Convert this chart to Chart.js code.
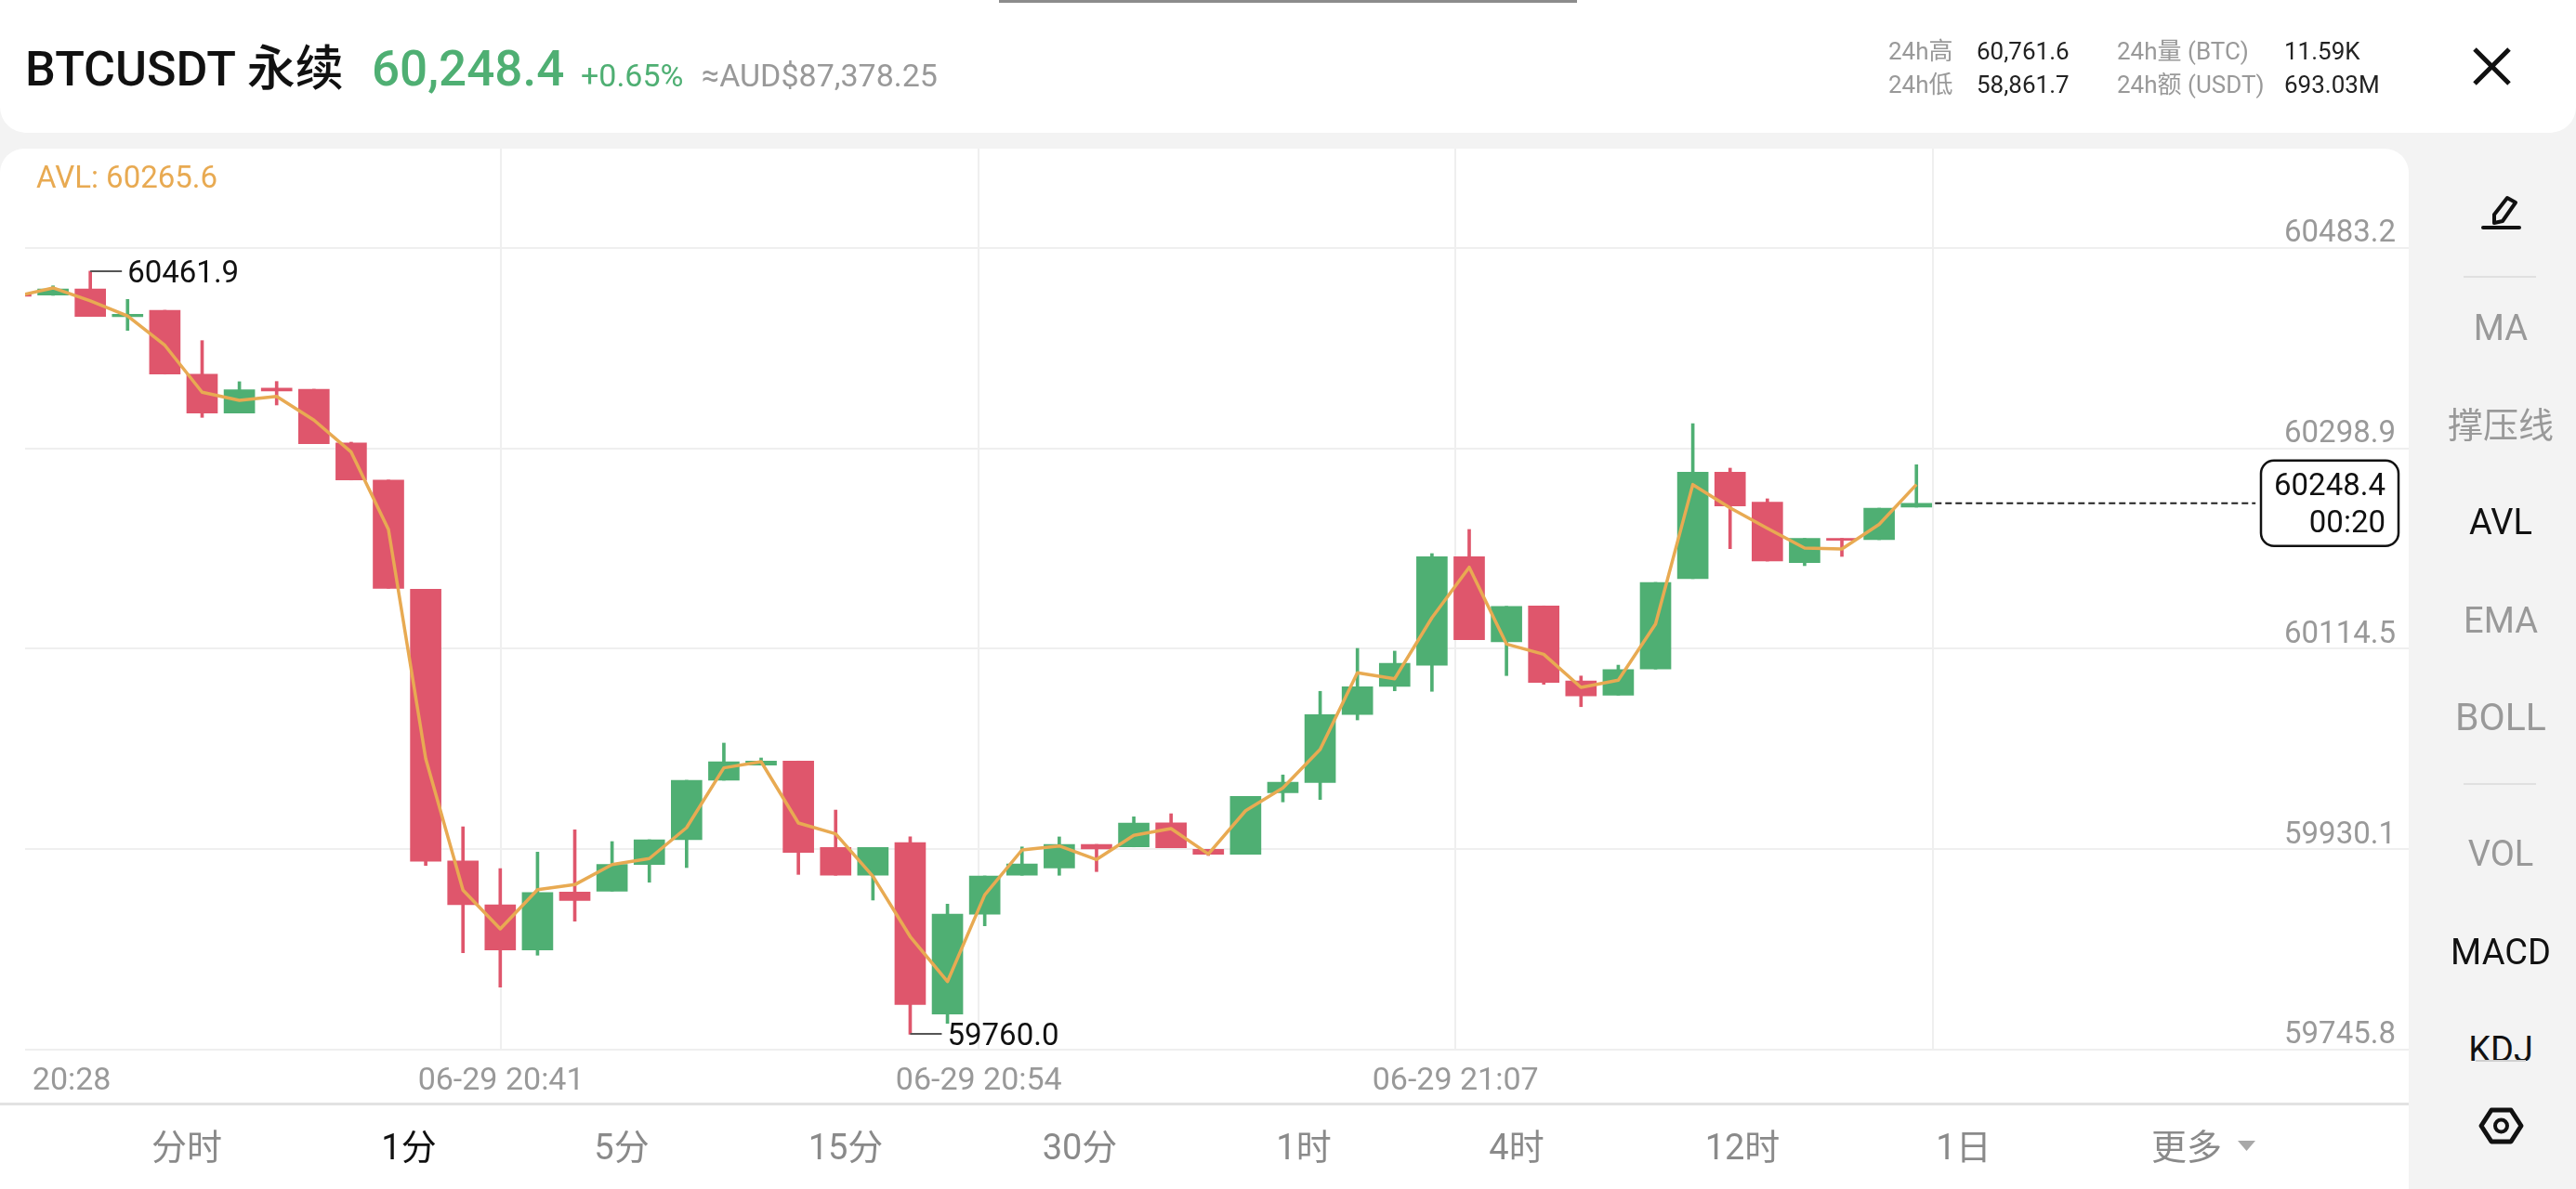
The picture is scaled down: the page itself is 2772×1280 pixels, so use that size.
<!DOCTYPE html>
<html lang="zh-CN">
<head>
<meta charset="utf-8">
<title>BTCUSDT 永续</title>
<script src="https://cdn.jsdelivr.net/npm/chart.js@4/dist/chart.umd.js"></script>
<style>
    html, body { margin: 0; padding: 0; background: #f3f3f3; overflow: hidden; }
    body { width: 2772px; height: 1280px; position: relative; font-family: Roboto, "Noto Sans CJK SC", sans-serif; }
    #header { position: absolute; left: 0; top: 0; width: 2772px; height: 143px; background: #fff; border-radius: 0 0 28px 28px; }
    #handle { position: absolute; left: 1075px; top: 0; width: 622px; height: 3px; background: #8c8c8c; }
    #card { position: absolute; left: 0; top: 160px; width: 2592px; height: 1120px; background: #fff; border-radius: 26px 26px 0 0; }
    #chart { position: absolute; left: 0; top: 0; }
    #divider { position: absolute; left: 0; top: 1187px; width: 2592px; height: 3px; background: #e2e2e2; }
    #kdjClip { position: absolute; left: 2592px; top: 1000px; width: 180px; height: 142px; overflow: hidden; }
    #kdjRule { position: absolute; left: 2664px; top: 1141px; width: 54px; height: 2px; background: #cfcfcf; }
    .rule { position: absolute; left: 2651px; width: 78px; height: 2px; background: #e0e0e0; }
    .txt { position: absolute; line-height: 1; white-space: nowrap; }
    svg { position: absolute; left: 0; top: 0; pointer-events: none; }
</style>
</head>
<body>
<div id="header"></div>
<div id="handle"></div>
<div id="card"></div>
<canvas id="chart" width="2592" height="1028" style="left:0;top:160px"></canvas>
<div id="divider"></div>
<div class="rule" style="top:297px"></div>
<div class="rule" style="top:843px"></div>
<div id="kdjClip"></div>
<div id="kdjRule"></div>
<svg width="2772" height="1280" fill="none" stroke="#111">
    <!-- close -->
    <path d="M2663 53 L2700 90 M2700 53 L2663 90" stroke-width="5"/>
    <!-- drawing tool -->
    <path d="M2698 213 L2707 218 L2693 238 L2684 240 L2684 231 Z" stroke-width="4" stroke-linejoin="round"/>
    <path d="M2672 245 H2711" stroke-width="4" stroke-linecap="round"/>
    <!-- settings -->
    <path d="M2681 1195 H2702 L2713 1212 L2702 1229 H2681 L2670 1212 Z" stroke-width="5" stroke-linejoin="round"/>
    <circle cx="2691.5" cy="1212" r="6.5" stroke-width="4"/>
    <!-- more -->
    <path d="M2408 1228 H2427 L2417.5 1239 Z" fill="#a8a8a8" stroke="none"/>
</svg>
<script>
// one minute candles, oldest first
const opens = [60441.3, 60439.9, 60445.6, 60420.0, 60425.9, 60367.2, 60331.4, 60354.2, 60353.3, 60303.8, 60269.8, 60169.4, 59919.5, 59879.1, 59837.5, 59890.8, 59891.6, 59916.1, 59938.9, 59993.6, 60007.5, 60011.3, 59931.8, 59906.2, 59936.3, 59778.5, 59870.5, 59906.2, 59913.0, 59934.6, 59932.3, 59954.5, 59930.1, 59925.5, 59982.2, 59991.6, 60054.0, 60079.9, 60099.3, 60199.3, 60120.9, 60154.0, 60085.0, 60071.9, 60095.9, 60179.0, 60277.0, 60249.5, 60193.8, 60216.1, 60214.9, 60244.8];
const highs = [60441.3, 60448.4, 60461.9, 60435.9, 60425.9, 60398.0, 60360.2, 60360.4, 60353.3, 60304.6, 60269.8, 60169.4, 59950.9, 59912.4, 59927.5, 59948.0, 59937.2, 59938.9, 59993.6, 60027.8, 60014.1, 60011.3, 59966.2, 59931.8, 59941.7, 59879.7, 59905.6, 59932.3, 59941.5, 59934.6, 59960.0, 59962.8, 59930.1, 59978.8, 59998.5, 60075.4, 60114.9, 60112.4, 60202.1, 60224.3, 60153.6, 60154.0, 60089.5, 60099.5, 60175.6, 60321.7, 60280.7, 60252.5, 60216.1, 60216.1, 60243.9, 60283.8];
const lows = [60438.8, 60439.6, 60420.2, 60407.4, 60367.2, 60327.4, 60331.4, 60338.8, 60303.2, 60269.8, 60170.2, 59915.2, 59834.9, 59803.3, 59832.7, 59864.0, 59891.6, 59899.8, 59913.3, 59993.6, 60007.5, 59907.0, 59906.2, 59883.4, 59760.0, 59770.0, 59859.7, 59906.2, 59906.2, 59909.6, 59932.3, 59931.5, 59924.4, 59925.5, 59973.7, 59975.9, 60049.1, 60075.9, 60075.4, 60122.9, 60089.9, 60081.9, 60061.3, 60071.9, 60095.9, 60179.0, 60206.6, 60195.2, 60191.0, 60199.5, 60214.9, 60244.8];
const closes = [60438.8, 60445.6, 60420.2, 60422.3, 60367.2, 60331.4, 60352.7, 60351.6, 60303.2, 60269.8, 60170.2, 59919.2, 59879.1, 59837.5, 59890.4, 59883.1, 59916.1, 59938.9, 59993.6, 60010.7, 60011.3, 59927.2, 59906.2, 59931.8, 59787.4, 59870.5, 59905.6, 59916.7, 59934.6, 59930.4, 59954.3, 59931.5, 59925.5, 59978.8, 59991.9, 60054.0, 60079.6, 60101.2, 60199.3, 60122.9, 60153.6, 60083.6, 60071.3, 60095.5, 60175.6, 60277.0, 60245.9, 60195.2, 60216.1, 60214.4, 60243.9, 60248.4];
const avl = [60438.8, 60446.5, 60434.5, 60420.8, 60393.7, 60350.5, 60343.1, 60346.7, 60324.9, 60295.5, 60224.3, 60013.5, 59892.5, 59856.9, 59893.0, 59897.6, 59916.1, 59921.6, 59950.0, 60005.0, 60010.7, 59954.3, 59944.3, 59905.3, 59849.8, 59808.4, 59888.2, 59929.5, 59933.2, 59920.7, 59942.9, 59949.2, 59925.8, 59965.6, 59986.5, 60022.0, 60092.4, 60087.0, 60143.1, 60189.5, 60118.9, 60109.5, 60079.0, 60085.6, 60137.4, 60265.6, 60244.2, 60225.4, 60207.2, 60206.4, 60229.0, 60265.6];

const priceTicks = [60483.2, 60298.9, 60114.5, 59930.1, 59745.8];
const timeTicks = [1.5, 13.02, 25.84, 38.63, 51.45];
const timeLabels = ['20:28', '06-29 20:41', '06-29 20:54', '06-29 21:07', ''];

const lastPrice = 60248.4;
const countdown = '00:20';
const highMark = { index: 2, price: 60461.9 };
const lowMark = { index: 24, price: 59760.0 };

const UP = '#4faf73';
const DOWN = '#df566c';
const GRID = '#efefef';
const AVL_COLOR = '#e8aa52';

const xs = opens.map((_, i) => i);
const candleColors = xs.map(i => closes[i] >= opens[i] ? UP : DOWN);

// marks that sit on the price scale but are not series: high/low callouts and the live price tag
const annotations = {
    id: 'annotations',
    afterDatasetsDraw(chart) {
        const ctx = chart.ctx;
        const x = chart.scales.x;
        const y = chart.scales.y;
        ctx.save();
        ctx.font = '33px Roboto';
        ctx.textBaseline = 'alphabetic';
        ctx.textAlign = 'left';
        [highMark, lowMark].forEach(m => {
            const px = x.getPixelForValue(m.index);
            const py = Math.round(y.getPixelForValue(m.price));
            ctx.strokeStyle = '#555';
            ctx.lineWidth = 2;
            ctx.beginPath();
            ctx.moveTo(px, py);
            ctx.lineTo(px + 34, py);
            ctx.stroke();
            ctx.fillStyle = '#111';
            ctx.fillText(m.price.toFixed(1), px + 40, py + 12);
        });
        const right = chart.chartArea.right - 11;
        const mid = y.getPixelForValue(lastPrice);
        ctx.fillStyle = '#fff';
        ctx.strokeStyle = '#111';
        ctx.lineWidth = 2.5;
        ctx.beginPath();
        ctx.roundRect(right - 148, mid - 46, 148, 92, 14);
        ctx.fill();
        ctx.stroke();
        ctx.fillStyle = '#111';
        ctx.textAlign = 'right';
        ctx.fillText(lastPrice.toFixed(1), right - 14, mid - 9);
        ctx.fillText(countdown, right - 14, mid + 31);
        ctx.restore();
    }
};

new Chart(document.getElementById('chart'), {
    data: {
        datasets: [{
            type: 'line',
            label: 'AVL',
            data: xs.map(i => ({ x: i, y: avl[i] })),
            borderColor: AVL_COLOR,
            borderWidth: 3.5,
            borderJoinStyle: 'round',
            pointRadius: 0,
            tension: 0,
            order: 1
        }, {
            type: 'line',
            label: 'last',
            data: [{ x: 51.5, y: lastPrice }, { x: 60.1, y: lastPrice }],
            borderColor: '#222',
            borderWidth: 2,
            borderDash: [7, 4],
            pointRadius: 0,
            order: 2
        }, {
            type: 'bar',
            label: 'body',
            data: xs.map(i => ({ x: i, y: [opens[i], closes[i]] })),
            backgroundColor: candleColors,
            barThickness: 33,
            grouped: false,
            order: 3
        }, {
            type: 'bar',
            label: 'wick',
            data: xs.map(i => ({ x: i, y: [lows[i], highs[i]] })),
            backgroundColor: candleColors,
            barThickness: 3,
            grouped: false,
            order: 4
        }]
    },
    options: {
        responsive: false,
        animation: false,
        devicePixelRatio: 1,
        layout: { padding: { left: 27, right: 0, top: 0, bottom: 0 } },
        plugins: { legend: { display: false }, tooltip: { enabled: false } },
        scales: {
            x: {
                type: 'linear',
                offset: false,
                min: 0.25,
                max: 64.21,
                afterBuildTicks: scale => { scale.ticks = timeTicks.map(v => ({ value: v })); },
                afterFit: scale => { scale.height = 58; scale.paddingLeft = 0; scale.paddingRight = 0; },
                border: { display: false },
                // the first time label has no grid line of its own
                grid: { offset: false, drawTicks: false, lineWidth: 2, color: ctx => ctx.index === 0 ? 'transparent' : GRID },
                ticks: {
                    autoSkip: false,
                    maxRotation: 0,
                    padding: 14,
                    color: '#999',
                    font: { family: 'Roboto', size: 34 },
                    callback: (v, i) => timeLabels[i]
                }
            },
            y: {
                position: 'right',
                min: 59745.8,
                max: 60574.6,
                afterBuildTicks: scale => { scale.ticks = priceTicks.map(v => ({ value: v })); },
                afterFit: scale => { scale.width = 0; scale.paddingTop = 0; scale.paddingBottom = 0; },
                border: { display: false },
                grid: { drawTicks: false, lineWidth: 2, color: GRID },
                ticks: {
                    mirror: true,
                    padding: -14,
                    labelOffset: -15,
                    autoSkip: false,
                    color: '#999',
                    font: { family: 'Roboto', size: 33 },
                    callback: v => v.toFixed(1)
                }
            }
        }
    },
    plugins: [annotations]
});

// x, baseline in page pixels; Roboto at line-height 1 has its baseline 0.842em down
function addText(text, x, baseline, size, color, align, weight, parent) {
    const el = document.createElement('div');
    el.className = 'txt';
    el.textContent = text;
    el.style.fontSize = size + 'px';
    el.style.color = color;
    el.style.fontWeight = weight || 400;
    const host = parent || document.body;
    const box = host.getBoundingClientRect();
    el.style.left = (x - box.left) + 'px';
    el.style.top = (baseline - 0.842 * size - box.top) + 'px';
    if (align === 'center') el.style.transform = 'translateX(-50%)';
    host.appendChild(el);
}

const GRAY = '#999';
const BLACK = '#111';

addText('BTCUSDT 永续', 27, 93, 52, BLACK, 'left', 500);
addText('60,248.4', 400, 93, 53, UP, 'left', 500);
addText('+0.65%', 625, 93, 34, UP);
addText('≈AUD$87,378.25', 755, 93, 34, GRAY);

addText('24h高', 2032, 64, 26, GRAY);
addText('24h低', 2032, 100, 26, GRAY);
addText('60,761.6', 2127, 64, 26, '#222');
addText('58,861.7', 2127, 100, 26, '#222');
addText('24h量 (BTC)', 2278, 64, 26, GRAY);
addText('24h额 (USDT)', 2278, 100, 26, GRAY);
addText('11.59K', 2458, 64, 26, '#222');
addText('693.03M', 2458, 100, 26, '#222');

addText('AVL: 60265.6', 39, 202, 33, AVL_COLOR);

const sideItems = [['MA', 366, GRAY, 38], ['撑压线', 471, GRAY, 38], ['AVL', 575, BLACK, 38], ['EMA', 681, GRAY, 38], ['BOLL', 787, GRAY, 41], ['VOL', 932, GRAY, 38], ['MACD', 1038, BLACK, 38]];
sideItems.forEach(s => addText(s[0], 2691, s[1], s[3], s[2], 'center'));
addText('KDJ', 2691, 1143, 38, BLACK, 'center', 400, document.getElementById('kdjClip'));

const tabs = [['分时', 201], ['1分', 440], ['5分', 669], ['15分', 910], ['30分', 1162], ['1时', 1403], ['4时', 1632], ['12时', 1875], ['1日', 2113]];
tabs.forEach(t => addText(t[0], t[1], 1248, 38, t[0] === '1分' ? BLACK : '#8a8a8a', 'center'));
addText('更多', 2353, 1248, 38, '#8a8a8a', 'center');
</script>
</body>
</html>
